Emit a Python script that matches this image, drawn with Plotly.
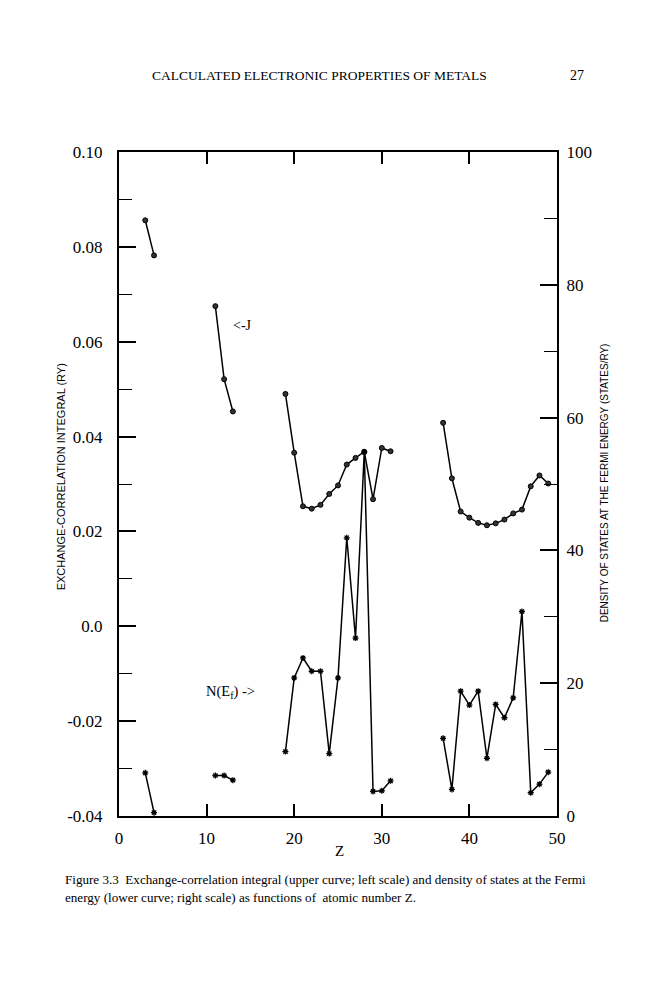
import plotly.graph_objects as go

# Atomic number Z (None separates the plotted segments)
Z = [3, 4, None, 11, 12, 13, None,
     19, 20, 21, 22, 23, 24, 25, 26, 27, 28, 29, 30, 31, None,
     37, 38, 39, 40, 41, 42, 43, 44, 45, 46, 47, 48, 49]

# Exchange-correlation integral J (Ry), left scale
J = [0.0856, 0.0782, None, 0.0675, 0.0521, 0.0453, None,
     0.0490, 0.0366, 0.0253, 0.0248, 0.0256, 0.0279, 0.0297, 0.0341, 0.0355, 0.0368, 0.0268, 0.0376, 0.0369, None,
     0.0429, 0.0312, 0.0242, 0.0229, 0.0218, 0.0213, 0.0217, 0.0225, 0.0238, 0.0246, 0.0295, 0.0318, 0.0301]

# Density of states at the Fermi energy (states/Ry), right scale
N = [6.5, 0.5, None, 6.1, 6.1, 5.4, None,
     9.7, 20.8, 23.8, 21.8, 21.8, 9.4, 20.8, 41.9, 26.8, 54.8, 3.7, 3.8, 5.3, None,
     11.7, 4.0, 18.8, 16.7, 18.8, 8.7, 16.8, 14.8, 17.8, 30.8, 3.5, 4.8, 6.6]

left_ticks = [0.10, 0.08, 0.06, 0.04, 0.02, 0.0, -0.02, -0.04]
left_labels = ["0.10", "0.08", "0.06", "0.04", "0.02", "0.0", "-0.02", "-0.04"]
right_ticks = [100, 80, 60, 40, 20, 0]
x_ticks = [0, 10, 20, 30, 40, 50]

SERIF = "Liberation Serif"
SANS = "Liberation Sans"

fig = go.Figure()
fig.add_trace(go.Scatter(
    x=Z, y=J, mode="lines+markers", connectgaps=False,
    line=dict(color="black", width=1.5),
    marker=dict(symbol="circle", size=5, color="#333", line=dict(color="black", width=1)),
    showlegend=False))
fig.add_trace(go.Scatter(
    x=Z, y=N, mode="lines+markers", connectgaps=False, yaxis="y2",
    line=dict(color="black", width=1.5),
    marker=dict(symbol="asterisk-open", size=5, line=dict(color="black", width=1.3)),
    showlegend=False))

# page offset of the figure inside the browser (body margin)
OX, OY = 7, 8
# plot area in screen pixels
SL, SR, ST, SB = 118, 556, 151.7, 815.7
W, H = 658, 1000
L = SL - OX
T = ST - OY
R = W - (SR - OX)
B = H - (SB - OY)
pw, ph = SR - SL, SB - ST

def px(xs):
    return (xs - SL) / pw

def py(ys):
    return (SB - ys) / ph

fig.update_layout(
    width=W, height=H,
    margin=dict(l=L, r=R, t=T, b=B),
    paper_bgcolor="white", plot_bgcolor="white",
    xaxis=dict(range=[0, 50], tickvals=x_ticks, ticks="inside", ticklen=12, tickwidth=1.5,
               tickcolor="black", showline=True, linecolor="black", linewidth=2,
               mirror="ticks", showgrid=False, zeroline=False,
               tickfont=dict(family=SERIF, size=17, color="black"), ticklabelstandoff=6),
    yaxis=dict(range=[-0.04, 0.10], tickvals=left_ticks, ticktext=left_labels,
               ticks="inside", ticklen=17, tickwidth=1.5, tickcolor="black",
               minor=dict(dtick=0.01, ticks="inside", ticklen=13, tickwidth=1, tickcolor="black",
                          showgrid=False),
               showline=True, linecolor="black", linewidth=2, showgrid=False, zeroline=False,
               tickfont=dict(family=SERIF, size=17, color="black"), ticklabelstandoff=11),
    yaxis2=dict(range=[0, 100], tickvals=right_ticks, overlaying="y", side="right",
                ticks="inside", ticklen=17, tickwidth=1.5, tickcolor="black",
                minor=dict(dtick=10, ticks="inside", ticklen=13, tickwidth=1, tickcolor="black",
                           showgrid=False),
                showline=True, linecolor="black", linewidth=2, showgrid=False, zeroline=False,
                tickfont=dict(family=SERIF, size=17, color="black"), ticklabelstandoff=4),
)

ann = [
    dict(text="CALCULATED ELECTRONIC PROPERTIES OF METALS", x=px(318), y=py(75),
         font=dict(family=SERIF, size=13.5, color="black")),
    dict(text="27", x=px(576), y=py(75), font=dict(family=SERIF, size=14, color="black")),
    dict(text="EXCHANGE-CORRELATION INTEGRAL (RY)", x=px(60), y=py(477), textangle=-90,
         font=dict(family=SANS, size=11, color="black")),
    dict(text="DENSITY OF STATES AT THE FERMI ENERGY (STATES/RY)", x=px(603), y=py(483),
         textangle=-90, font=dict(family=SANS, size=10, color="black")),
    dict(text="Z", x=px(338), y=py(851), font=dict(family=SERIF, size=15, color="black")),
    dict(text="&lt;-J", x=px(241), y=py(325), font=dict(family=SERIF, size=14, color="black")),
    dict(text="N(E<sub>f</sub>) -&gt;", x=px(229), y=py(692),
         font=dict(family=SERIF, size=14.5, color="black")),
    dict(text="Figure 3.3  Exchange-correlation integral (upper curve; left scale) and density of states at the Fermi",
         x=px(62), y=py(879), xanchor="left", font=dict(family=SERIF, size=13.1, color="black")),
    dict(text="energy (lower curve; right scale) as functions of  atomic number Z.",
         x=px(62), y=py(897), xanchor="left", font=dict(family=SERIF, size=13.1, color="black")),
]
for a in ann:
    a.setdefault("xanchor", "center")
    fig.add_annotation(xref="paper", yref="paper", showarrow=False, yanchor="middle", **a)

fig.write_html("out.html")
